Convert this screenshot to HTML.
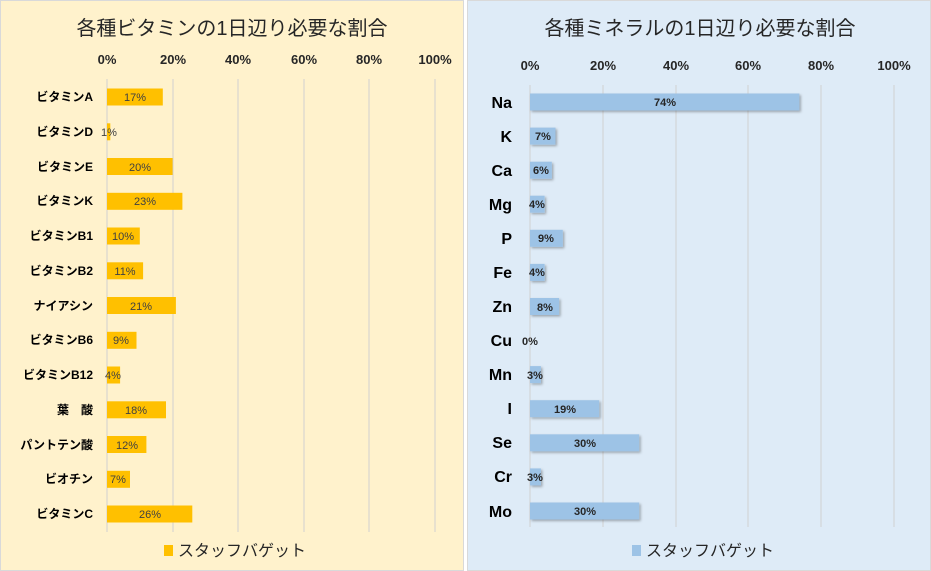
<!DOCTYPE html>
<html><head><meta charset="utf-8"><style>
body{margin:0;width:931px;height:571px;overflow:hidden;background:#fff}
svg{display:block}
text{font-family:"Liberation Sans","Noto Sans CJK JP",sans-serif}
</style></head><body>
<svg width="931" height="571" viewBox="0 0 931 571">
<defs><filter id="sh" x="-10%" y="-30%" width="130%" height="180%"><feDropShadow dx="1.5" dy="1.5" stdDeviation="1.2" flood-color="#000" flood-opacity="0.3"/></filter></defs>
<rect x="0.5" y="0.5" width="463" height="570" fill="#FFF2CC" stroke="#d9d9d9"/>
<rect x="467.5" y="0.5" width="463" height="570" fill="#DEEBF7" stroke="#d9d9d9"/>
<text x="232" y="35" font-size="20" text-anchor="middle" fill="#262626">各種ビタミンの1日辺り必要な割合</text>
<text x="700" y="35" font-size="20" text-anchor="middle" fill="#262626">各種ミネラルの1日辺り必要な割合</text>
<g font-size="13" font-weight="bold" fill="#262626" text-anchor="middle">
<text x="107" y="64">0%</text><text x="173" y="64">20%</text><text x="238" y="64">40%</text><text x="304" y="64">60%</text><text x="369" y="64">80%</text><text x="435" y="64">100%</text>
<text x="530" y="70">0%</text><text x="603" y="70">20%</text><text x="676" y="70">40%</text><text x="748" y="70">60%</text><text x="821" y="70">80%</text><text x="894" y="70">100%</text>
</g>
<g stroke="#d0d0d0" stroke-width="1">
<line x1="107" y1="79" x2="107" y2="532"/><line x1="173" y1="79" x2="173" y2="532"/><line x1="238" y1="79" x2="238" y2="532"/><line x1="304" y1="79" x2="304" y2="532"/><line x1="369" y1="79" x2="369" y2="532"/><line x1="435" y1="79" x2="435" y2="532"/>
<line x1="530" y1="85" x2="530" y2="527"/><line x1="603" y1="85" x2="603" y2="527"/><line x1="676" y1="85" x2="676" y2="527"/><line x1="748" y1="85" x2="748" y2="527"/><line x1="821" y1="85" x2="821" y2="527"/><line x1="894" y1="85" x2="894" y2="527"/>
</g>
<g fill="#FFC000">
<rect x="107" y="88.5" width="55.8" height="17"/>
<rect x="107" y="123.3" width="3.3" height="17"/>
<rect x="107" y="158" width="65.6" height="17"/>
<rect x="107" y="192.8" width="75.4" height="17"/>
<rect x="107" y="227.5" width="32.8" height="17"/>
<rect x="107" y="262.3" width="36.1" height="17"/>
<rect x="107" y="297" width="68.9" height="17"/>
<rect x="107" y="331.8" width="29.5" height="17"/>
<rect x="107" y="366.5" width="13.1" height="17"/>
<rect x="107" y="401.3" width="59" height="17"/>
<rect x="107" y="436" width="39.4" height="17"/>
<rect x="107" y="470.8" width="23" height="17"/>
<rect x="107" y="505.5" width="85.3" height="17"/>
</g>
<g font-size="11" fill="#404040" text-anchor="middle">
<text x="135" y="101">17%</text><text x="109" y="136">1%</text><text x="140" y="171">20%</text><text x="145" y="205">23%</text><text x="123" y="240">10%</text><text x="125" y="275">11%</text><text x="141" y="310">21%</text><text x="121" y="344">9%</text><text x="113" y="379">4%</text><text x="136" y="414">18%</text><text x="127" y="449">12%</text><text x="118" y="483">7%</text><text x="150" y="518">26%</text>
</g>
<g font-size="12" font-weight="bold" fill="#000" text-anchor="end">
<text x="93" y="101">ビタミンA</text><text x="93" y="136">ビタミンD</text><text x="93" y="171">ビタミンE</text><text x="93" y="205">ビタミンK</text><text x="93" y="240">ビタミンB1</text><text x="93" y="275">ビタミンB2</text><text x="93" y="310">ナイアシン</text><text x="93" y="344">ビタミンB6</text><text x="93" y="379">ビタミンB12</text><text x="93" y="414">葉　酸</text><text x="93" y="449">パントテン酸</text><text x="93" y="483">ビオチン</text><text x="93" y="518">ビタミンC</text>
</g>
<g fill="#9DC3E6" filter="url(#sh)">
<rect x="530" y="93.5" width="269.4" height="17"/>
<rect x="530" y="127.6" width="25.5" height="17"/>
<rect x="530" y="161.7" width="21.8" height="17"/>
<rect x="530" y="195.7" width="14.6" height="17"/>
<rect x="530" y="229.8" width="32.8" height="17"/>
<rect x="530" y="263.9" width="14.6" height="17"/>
<rect x="530" y="298" width="29.1" height="17"/>
<rect x="530" y="366.1" width="10.9" height="17"/>
<rect x="530" y="400.2" width="69.2" height="17"/>
<rect x="530" y="434.3" width="109.2" height="17"/>
<rect x="530" y="468.4" width="10.9" height="17"/>
<rect x="530" y="502.5" width="109.2" height="17"/>
</g>
<g font-size="11" font-weight="bold" fill="#262626" text-anchor="middle">
<text x="665" y="106">74%</text><text x="543" y="140">7%</text><text x="541" y="174">6%</text><text x="537" y="208">4%</text><text x="546" y="242">9%</text><text x="537" y="276">4%</text><text x="545" y="311">8%</text><text x="530" y="345">0%</text><text x="535" y="379">3%</text><text x="565" y="413">19%</text><text x="585" y="447">30%</text><text x="535" y="481">3%</text><text x="585" y="515">30%</text>
</g>
<g font-size="16" font-weight="bold" fill="#000" text-anchor="end">
<text x="512" y="108">Na</text><text x="512" y="142">K</text><text x="512" y="176">Ca</text><text x="512" y="210">Mg</text><text x="512" y="244">P</text><text x="512" y="278">Fe</text><text x="512" y="312">Zn</text><text x="512" y="346">Cu</text><text x="512" y="380">Mn</text><text x="512" y="414">I</text><text x="512" y="448">Se</text><text x="512" y="482">Cr</text><text x="512" y="517">Mo</text>
</g>
<rect x="164" y="545" width="9" height="11" fill="#FFC000"/>
<text x="178" y="556" font-size="16" fill="#262626">スタッフバゲット</text>
<rect x="632" y="545" width="9" height="11" fill="#9DC3E6"/>
<text x="646" y="556" font-size="16" fill="#262626">スタッフバゲット</text>
</svg>
</body></html>
